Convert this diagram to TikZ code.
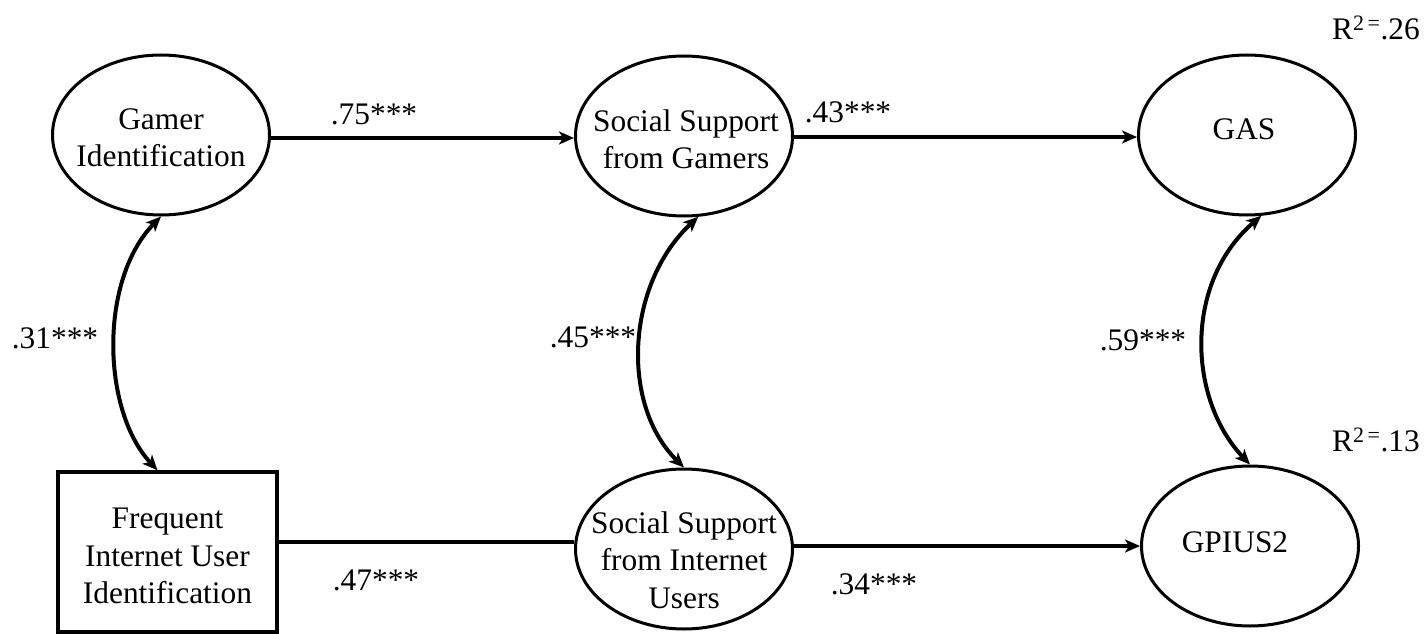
\documentclass[tikz,border=0pt]{standalone}
\usepackage{fontspec}
\setmainfont{Liberation Serif}
\usetikzlibrary{shapes.geometric,arrows.meta}
\begin{document}
\begin{tikzpicture}[x=1bp,y=-1bp,
  lat/.style={ellipse,draw,line width=3bp,minimum width=217bp,minimum height=160bp,inner sep=0pt},
  obs/.style={rectangle,draw,line width=3.5bp,minimum width=219bp,minimum height=160bp,inner sep=0pt},
  txt/.style={align=center,inner sep=0pt,font=\fontsize{31.5}{37.5}\selectfont},
  lbl/.style={inner sep=0pt,font=\fontsize{31.5}{37}\selectfont},
  conn/.style={line width=4bp},
  arr/.style={line width=4bp,-{Stealth[length=15bp,width=13bp,inset=4bp]}},
  bidir/.style={line width=4bp,{Stealth[length=15bp,width=13bp,inset=4bp]}-{Stealth[length=15bp,width=13bp,inset=4bp]}}
]
\useasboundingbox (0,0) rectangle (1426,634);
% nodes
\node[lat] (gi) at (161,135) {};
\node[txt] (gitxt) at (161,138) {Gamer\\Identification};
\node[lat] (ssg) at (684,136) {};
\node[txt] (ssgtxt) at (686,139) {Social Support\\from Gamers};
\node[lat] (gas) at (1247,135) {};
\node[txt] (gastxt) at (1244,129) {GAS};
\node[obs] (fiu) at (167.5,552) {};
\node[txt] (fiutxt) at (167.5,556) {Frequent\\Internet User\\Identification};
\node[lat] (ssiu) at (684,549) {};
\node[txt] (ssiutxt) at (684,560) {Social Support\\from Internet\\Users};
\node[lat] (gp) at (1250,546) {};
\node[txt] (gptxt) at (1235,542) {GPIUS2};
% straight paths
\draw[arr] ([yshift=-2bp]gi.east |- ssg.west) -- ([yshift=-2bp]ssg.west);
\draw[arr] ([yshift=-2bp]ssg.east |- gas.west) -- ([yshift=-2bp]gas.west);
\draw[conn] ([yshift=7bp]fiu.east |- ssiu.west) -- ([yshift=7bp]ssiu.west);
\draw[arr] (ssiu.east |- gp.west) -- (gp.west);
% correlations
\draw[bidir] (gi.south) .. controls +(-62,63) and +(-56,-60) .. ([xshift=-10bp]fiu.north);
\draw[bidir] (ssg.-80) .. controls +(-72,67) and +(-64,-63) .. (ssiu.north);
\draw[bidir] (gas.-80) .. controls +(-78,67) and +(-62,-65) .. (gp.north);
% labels
\node[lbl] (l75) at (374,114) {.75***};
\node[lbl] (l43) at (848,112) {.43***};
\node[lbl] (l47) at (376,580) {.47***};
\node[lbl] (l34) at (874,584) {.34***};
\node[lbl] (l31) at (55,338) {.31***};
\node[lbl] (l45) at (593,337) {.45***};
\node[lbl] (l59) at (1143,340) {.59***};
\node[lbl] (r26) at (1376,28) {R\textsuperscript{2\,=}.26};
\node[lbl] (r13) at (1376,440) {R\textsuperscript{2\,=}.13};
\end{tikzpicture}
\end{document}
